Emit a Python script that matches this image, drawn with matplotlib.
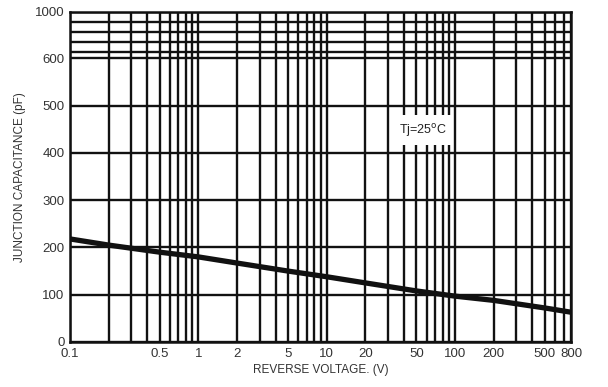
import numpy as np
import matplotlib
matplotlib.use("Agg")
import matplotlib.pyplot as plt

# data
voltage = [0.1, 0.2, 0.5, 1, 2, 5, 10, 20, 50, 100, 200, 500, 800]
capacitance = [218, 205, 190, 180, 167, 150, 138, 125, 108, 97, 88, 72, 63]

x_ticks = [0.1, 0.5, 1, 2, 5, 10, 20, 50, 100, 200, 500, 800]
x_ticklabels = ["0.1", "0.5", "1", "2", "5", "10", "20", "50", "100", "200", "500", "800"]
y_ticks = [0, 100, 200, 300, 400, 500, 600, 1000]
y_grid = [0, 100, 200, 300, 400, 500, 600, 650, 700, 800, 900, 1000]

plt.rcParams['font.family'] = ['Liberation Sans', 'DejaVu Sans']

# compressed upper part of the chart's y scale (value -> scale position)
knot_val = np.array([-1e6, 600, 650, 700, 800, 900, 1000, 1e6])
knot_pos = np.array([-1e6, 600, 614, 635, 656, 677, 698, 698 + (1e6 - 1000) * 0.21])
def fwd(y):
    return np.interp(np.asarray(y, dtype=float), knot_val, knot_pos)
def inv(v):
    return np.interp(np.asarray(v, dtype=float), knot_pos, knot_val)

fig = plt.figure(figsize=(6.08, 3.87), dpi=100)
ax = fig.add_axes([70/608, 1-342/387, (571-70)/608, (342-12)/387])
ax.set_xscale('log')
ax.set_yscale('function', functions=(fwd, inv))
ax.set_xlim(0.1, 800)
ax.set_ylim(0, 1000)

minor_x = []
for dec in [0.1, 1, 10, 100]:
    for m in range(1, 10):
        v = dec * m
        if v <= 800:
            minor_x.append(v)
for v in minor_x:
    ax.axvline(v, color='#111111', lw=1.7, zorder=1)
for v in y_grid:
    ax.axhline(v, color='#111111', lw=1.7, zorder=1)

ax.plot(voltage, capacitance, color='#111111', lw=3.8, zorder=3, solid_capstyle='butt')

ax.text(56, 448, "Tj=25$^{\\mathrm{o}}$C", ha='center', va='center', fontsize=9,
        color='#222222', zorder=4,
        bbox=dict(facecolor='white', edgecolor='none', pad=4.5))

ax.set_xticks(x_ticks)
ax.set_xticklabels(x_ticklabels)
ax.xaxis.set_minor_locator(matplotlib.ticker.NullLocator())
ax.set_yticks(y_ticks)
ax.set_yticklabels([str(v) for v in y_ticks])
ax.yaxis.set_minor_locator(matplotlib.ticker.NullLocator())
ax.tick_params(length=0, labelsize=9.5, labelcolor='#333333', pad=4)

for s in ax.spines.values():
    s.set_linewidth(1.8)
    s.set_color('#111111')

ax.set_xlabel("REVERSE VOLTAGE. (V)", fontsize=8.5, color='#333333', labelpad=3)
ax.set_ylabel("JUNCTION CAPACITANCE (pF)", fontsize=8.5, color='#333333', labelpad=6)

fig.savefig("out.png", dpi=100, facecolor='white')
